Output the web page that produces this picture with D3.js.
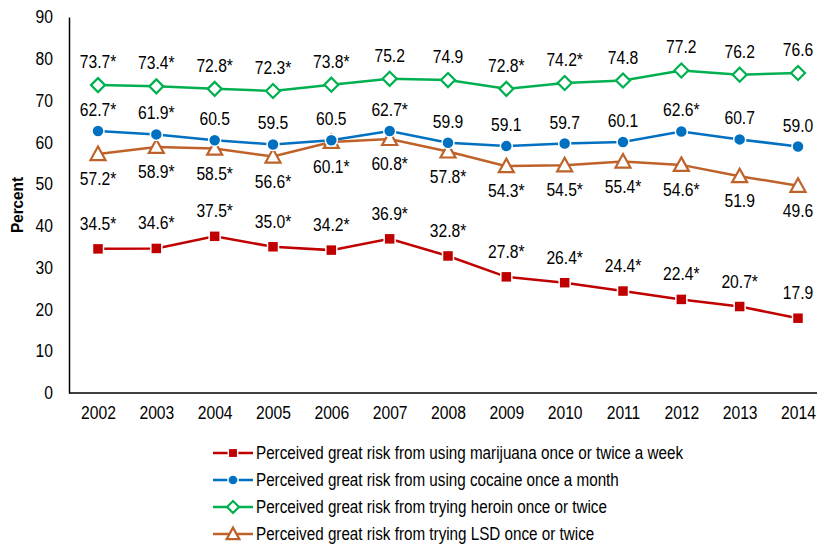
<!DOCTYPE html>
<html><head><meta charset="utf-8">
<script src="https://cdn.jsdelivr.net/npm/d3@7"></script>
<style>body{margin:0;background:#fff}svg{display:block}text{font-family:"Liberation Sans Narrow","Arial Narrow","Liberation Sans",sans-serif}</style>
</head><body>
<svg id="c" width="817" height="544"></svg>
<script>
const years = ["2002","2003","2004","2005","2006","2007","2008","2009","2010","2011","2012","2013","2014"];
const yTicks = [0,10,20,30,40,50,60,70,80,90];
const marijuana = [34.5,34.6,37.5,35.0,34.2,36.9,32.8,27.8,26.4,24.4,22.4,20.7,17.9];
const marijuanaSig = [1,1,1,1,1,1,1,1,1,1,1,1,0];
const cocaine = [62.7,61.9,60.5,59.5,60.5,62.7,59.9,59.1,59.7,60.1,62.6,60.7,59.0];
const cocaineSig = [1,1,0,0,0,1,0,0,0,0,1,0,0];
const heroin = [73.7,73.4,72.8,72.3,73.8,75.2,74.9,72.8,74.2,74.8,77.2,76.2,76.6];
const heroinSig = [1,1,1,1,1,0,0,1,1,0,0,0,0];
const lsd = [57.2,58.9,58.5,56.6,60.1,60.8,57.8,54.3,54.5,55.4,54.6,51.9,49.6];
const lsdSig = [1,1,1,1,1,1,1,1,1,1,1,0,0];
const seriesNames = [
  "Perceived great risk from using marijuana once or twice a week",
  "Perceived great risk from using cocaine once a month",
  "Perceived great risk from trying heroin once or twice",
  "Perceived great risk from trying LSD once or twice"
];

const series = [
  {name:seriesNames[0], values:marijuana, sig:marijuanaSig, color:"#C00000", shape:"square", labelPos:"above"},
  {name:seriesNames[1], values:cocaine, sig:cocaineSig, color:"#0070C0", shape:"circle", labelPos:"above"},
  {name:seriesNames[2], values:heroin, sig:heroinSig, color:"#00B050", shape:"diamond", labelPos:"above"},
  {name:seriesNames[3], values:lsd, sig:lsdSig, color:"#BE6229", shape:"triangle", labelPos:"below"}
];

const SX = 0.87;
const svg = d3.select("#c");
const x = d3.scalePoint().domain(years).range([98, 798]);
const y = d3.scaleLinear().domain([0, 90]).range([393, 17]);

function ctext(parent, tx, ty, str, anchor, size, weight) {
  return parent.append("text")
    .attr("transform", `translate(${tx},${ty}) scale(${SX},1)`)
    .attr("text-anchor", anchor).attr("font-size", size)
    .attr("font-weight", weight || "normal").attr("fill", "#000").text(str);
}

// axes
const yAxis = svg.append("g").attr("transform","translate(69,0)")
  .call(d3.axisLeft(y).tickValues(yTicks).tickSize(0).tickPadding(10).tickFormat(d3.format("d")));
yAxis.select(".domain").attr("stroke","#000").attr("stroke-width",1.5);
yAxis.selectAll("text").attr("font-size",18).attr("fill","#000")
  .attr("x",null).attr("transform",`translate(-16,0) scale(${SX},1)`);

const xAxis = svg.append("g").attr("transform","translate(0,393)")
  .call(d3.axisBottom(x).tickSize(0).tickPadding(13));
xAxis.select(".domain").attr("d","M69,0H817").attr("stroke","#000").attr("stroke-width",1.5);
xAxis.selectAll("text").attr("font-size",18).attr("fill","#000")
  .attr("transform",`scale(${SX},1)`);

svg.append("text").attr("transform","translate(23,205) rotate(-90) scale(0.9,1)")
  .attr("text-anchor","middle").attr("font-size",17).attr("font-weight","bold").attr("fill","#000").text("Percent");

function drawMarker(g, shape, color, cx, cy, scale) {
  scale = scale || 1;
  if (shape === "square") {
    const s = 11*scale;
    g.append("rect").attr("x",cx-s/2).attr("y",cy-s/2).attr("width",s).attr("height",s)
      .attr("fill",color).attr("stroke","#fff").attr("stroke-width",1.5);
  } else if (shape === "circle") {
    g.append("circle").attr("cx",cx).attr("cy",cy).attr("r",6*scale)
      .attr("fill",color).attr("stroke","#fff").attr("stroke-width",1.5);
  } else if (shape === "diamond") {
    const r = 7*scale;
    g.append("path").attr("d",`M${cx},${cy-r}L${cx+r},${cy}L${cx},${cy+r}L${cx-r},${cy}Z`)
      .attr("fill","#fff").attr("stroke",color).attr("stroke-width",2.2);
  } else if (shape === "triangle") {
    const r = 7.5*scale;
    g.append("path").attr("d",`M${cx},${cy-r}L${cx+r},${cy+r*0.8}L${cx-r},${cy+r*0.8}Z`)
      .attr("fill","#fff").attr("stroke",color).attr("stroke-width",2.2);
  }
}

const line = d3.line().x((d,i)=>x(years[i])).y(d=>y(d));
series.slice().reverse().forEach(s => {
  const g = svg.append("g");
  g.append("path").attr("d", line(s.values)).attr("fill","none")
    .attr("stroke", s.color).attr("stroke-width", 2.5);
  s.values.forEach((v,i) => drawMarker(g, s.shape, s.color, x(years[i]), y(v)));
});

// labels
series.forEach(s => {
  const g = svg.append("g");
  s.values.forEach((v,i) => {
    const off = s.labelPos === "above" ? (s.shape==="circle" ? -15 : (s.shape==="diamond" ? -17 : -19)) : 31;
    ctext(g, x(years[i]), y(v)+off, v.toFixed(1) + (s.sig[i] ? "*" : ""), "middle", 18);
  });
});

// legend
const lg = svg.append("g");
series.forEach((s,i) => {
  const ly = 453 + i*27;
  lg.append("line").attr("x1",213).attr("x2",253).attr("y1",ly).attr("y2",ly)
    .attr("stroke",s.color).attr("stroke-width",2.5);
  drawMarker(lg, s.shape, s.color, 233, ly, 0.85);
  ctext(lg, 256, ly+6, s.name, "start", 17.5);
});
</script>
</body></html>
